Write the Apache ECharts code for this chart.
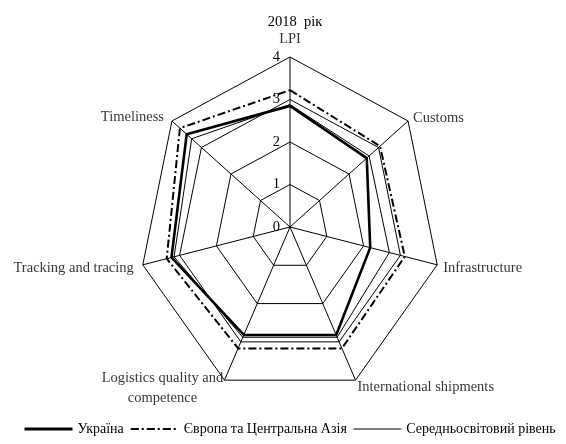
<!DOCTYPE html>
<html>
<head>
<meta charset="utf-8">
<script src="https://cdn.jsdelivr.net/npm/echarts@6/dist/echarts.min.js"></script>
<style>
  html, body { margin: 0; padding: 0; background: #fff; }
  #main { width: 566px; height: 444px; }
</style>
</head>
<body>
<div id="main"></div>
<script>
// axes of the radar, clockwise from the top
const indicators = [
  'LPI',
  'Customs',
  'Infrastructure',
  'International shipments',
  'Logistics quality and\ncompetence',
  'Tracking and tracing',
  'Timeliness'
]
const ukraine = [2.85, 2.6, 2.18, 2.82, 2.82, 3.22, 3.5]
const europe = [3.22, 3.05, 3.12, 3.17, 3.17, 3.35, 3.73]
const world = [2.88, 2.68, 2.7, 2.88, 2.88, 3.15, 3.33]
const ringLevels = [1, 2, 3, 4]
const maxValue = 4
const seriesNames = ['Україна', 'Європа та Центральна Азія', 'Середньосвітовий рівень']

const font = 'Liberation Serif'
const N = indicators.length

// excel stretched the radar into an ellipse, so it is drawn on a value grid
// whose x and y scales differ
const toXY = (v, i) => {
  const a = (i * 2 * Math.PI) / N
  return [v * Math.sin(a), v * Math.cos(a)]
}
const polygon = vals => vals.concat([vals[0]]).map((v, i) => toXY(v, i % N))

const gridLine = data => ({
  type: 'line',
  data,
  symbol: 'none',
  silent: true,
  clip: false,
  z: 1,
  lineStyle: { color: '#000', width: 1 }
})

const rings = ringLevels.map(r => gridLine(polygon(indicators.map(() => r))))
const spokes = indicators.map((_, i) => gridLine([[0, 0], toXY(maxValue, i)]))

// where each axis name sits next to its outer vertex
const nameLabels = [
  { position: 'top', distance: 10 },
  { position: 'right', distance: 5, offset: [0, -3] },
  { position: 'right', distance: 6, offset: [0, 3] },
  { position: [2, 0], align: 'left', verticalAlign: 'top' },
  { position: [-62, -12], align: 'center', verticalAlign: 'top', lineHeight: 20 },
  { position: 'left', distance: 9, offset: [0, 3] },
  { position: 'left', distance: 8, offset: [0, -4] }
]

const chart = echarts.init(document.getElementById('main'))

chart.setOption({
  backgroundColor: '#fff',
  animation: false,
  color: ['#000', '#000', '#000'],
  textStyle: { fontFamily: font, color: '#000' },
  title: {
    text: '2018  рік',
    left: 290,
    top: 10,
    textAlign: 'center',
    textStyle: { fontFamily: font, fontWeight: 'normal', fontSize: 14.5, color: '#000' }
  },
  grid: {
    left: 139,
    top: 57,
    width: 302,
    height: 340,
    outerBoundsMode: 'none'
  },
  xAxis: {
    type: 'value',
    min: -maxValue,
    max: maxValue,
    show: false
  },
  yAxis: {
    type: 'value',
    min: -maxValue,
    max: maxValue,
    interval: 1,
    // shift the axis from the grid edge onto the vertical spoke
    offset: -151,
    axisLine: { show: false, onZero: false },
    axisTick: { show: false },
    splitLine: { show: false },
    axisLabel: {
      margin: 10,
      fontFamily: font,
      fontSize: 14.5,
      color: '#000',
      formatter: v => (v >= 0 ? String(v) : '')
    }
  },
  legend: {
    data: [
      { name: seriesNames[0], lineStyle: { width: 3 } },
      { name: seriesNames[1], lineStyle: { width: 2 } },
      { name: seriesNames[2], lineStyle: { width: 1 } }
    ],
    left: 18,
    bottom: 3,
    itemWidth: 48,
    itemHeight: 10,
    itemGap: 6,
    itemStyle: { color: 'transparent', borderColor: 'transparent', borderWidth: 0 },
    textStyle: { fontFamily: font, fontSize: 14, color: '#000' }
  },
  series: [
    ...rings,
    ...spokes,
    {
      name: seriesNames[0],
      type: 'line',
      data: polygon(ukraine),
      symbol: 'none',
      clip: false,
      z: 4,
      lineStyle: { color: '#000', width: 2.6 }
    },
    {
      name: seriesNames[1],
      type: 'line',
      data: polygon(europe),
      symbol: 'none',
      clip: false,
      z: 3,
      lineStyle: { color: '#000', width: 2, type: [8, 3, 2, 3] }
    },
    {
      name: seriesNames[2],
      type: 'line',
      data: polygon(world),
      symbol: 'none',
      clip: false,
      z: 3,
      lineStyle: { color: '#000', width: 1 }
    },
    {
      type: 'scatter',
      silent: true,
      symbolSize: 0,
      z: 5,
      data: indicators.map((name, i) => ({
        value: toXY(maxValue, i),
        label: Object.assign({ show: true, formatter: name }, nameLabels[i])
      })),
      label: { fontFamily: font, fontSize: 14.5, color: '#000' }
    }
  ]
})
</script>
</body>
</html>
